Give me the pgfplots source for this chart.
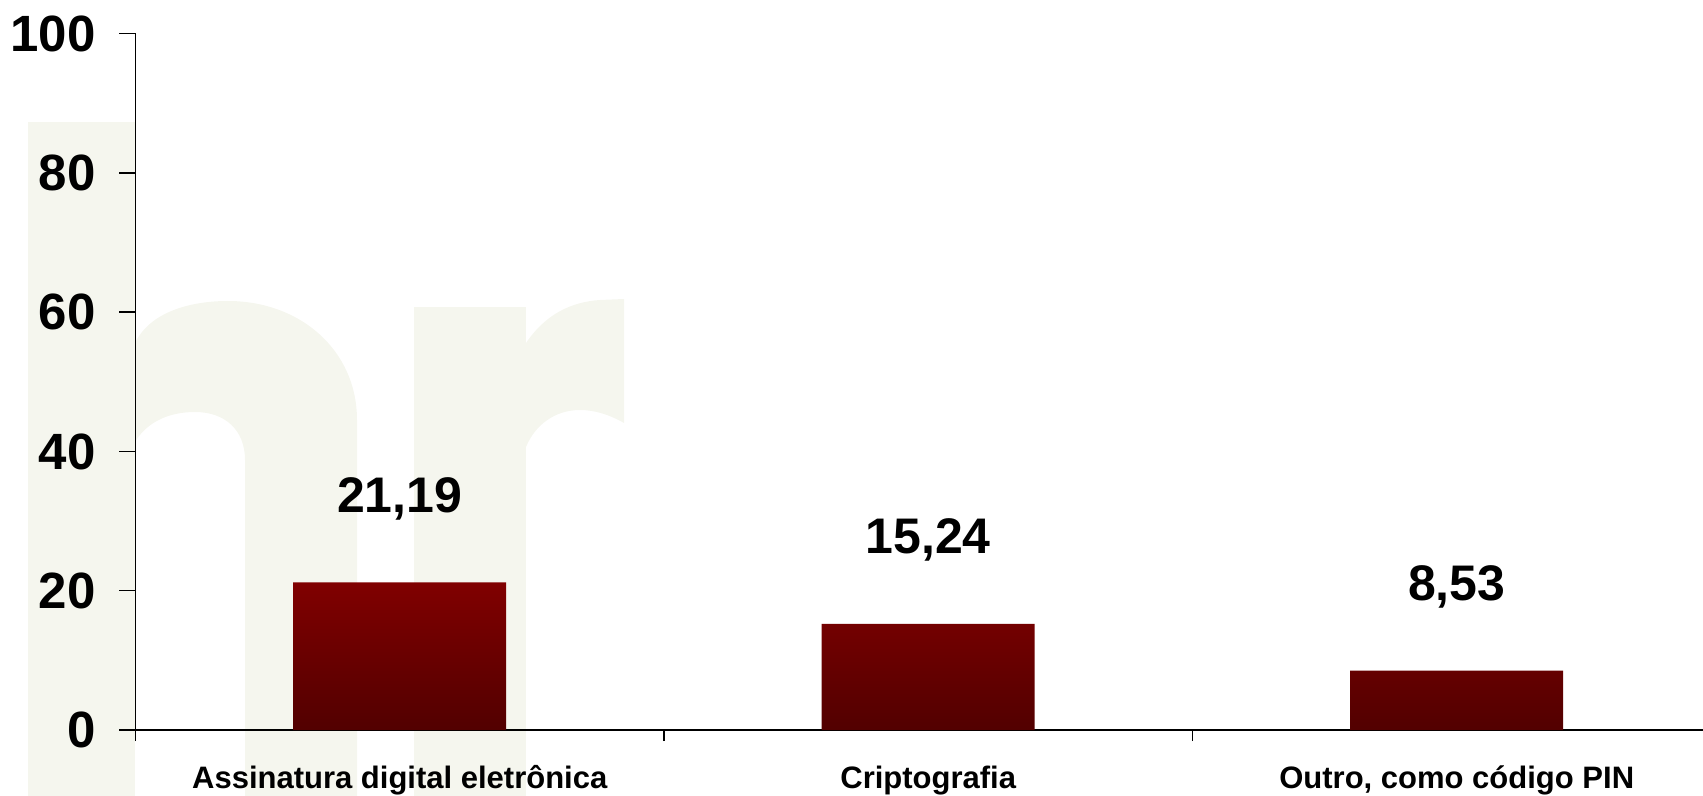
\documentclass[border=0pt]{standalone}
\usepackage{pgfplots}
\pgfplotsset{compat=1.18}
\usepackage{fontspec}
\setmainfont{Liberation Sans}
\definecolor{wm}{RGB}{245,246,238}
\definecolor{bartop}{RGB}{128,0,0}
\definecolor{barbot}{RGB}{82,0,0}
\newcommand\bigfont{\bfseries\fontsize{25}{30}\selectfont}
\newcommand\tickfont{\bfseries\fontsize{25.5}{30}\selectfont}
\newcommand\catfont{\bfseries\fontsize{15.5}{18}\selectfont}

\begin{document}
\begin{tikzpicture}
\path[use as bounding box] (0,0) rectangle (851.5pt,-398pt);
\clip (0,0) rectangle (851.5pt,-398pt);
% watermark letters (pixel units, y down)
\begin{scope}[x=0.5pt,y=-0.5pt]
  \fill[wm] (28,122) rectangle (135,800);
  \fill[wm] (135,343) .. controls (150,312) and (190,301) .. (228,301)
    .. controls (300,301) and (357,350) .. (357,420) -- (357,800) -- (245,800)
    -- (245,460) .. controls (245,430) and (225,412) .. (195,412)
    .. controls (165,412) and (145,425) .. (135,442) -- cycle;
  \fill[wm] (414,307) rectangle (526,800);
  \fill[wm] (526,343) .. controls (545,315) and (570,302) .. (600,300)
    -- (624,299) -- (624,423) .. controls (610,415) and (595,410) .. (580,410)
    .. controls (555,410) and (535,425) .. (526,447) -- cycle;
\end{scope}
\begin{axis}[
  at={(67.75pt,-365pt)}, anchor=south west,
  scale only axis, width=783.75pt, height=348.15pt,
  xmin=-0.5, xmax=2.466, ymin=0, ymax=100,
  axis x line=bottom, axis y line=left,
  axis line style={-, line width=0.75pt},
  tick align=outside,
  tick style={black, line width=0.75pt},
  ytick={0,20,40,60,80,100},
  ytick style={/pgfplots/major tick length=8pt},
  xtick={-0.5,0.5,1.5},
  xticklabels={},
  xtick style={/pgfplots/major tick length=5.5pt},
  /pgf/number format/assume math mode=true,
  yticklabel style={font=\tickfont, anchor=east, inner sep=0pt, xshift=-15.5pt},
  extra x ticks={0,1,2},
  extra x tick labels={{Assinatura digital eletrônica}, {Criptografia}, {Outro, como código PIN}},
  extra x tick style={tick style={draw=none},
    xticklabel style={font=\catfont, anchor=base, inner sep=0pt, yshift=-25pt}},
  ybar, bar width=106.5pt,
  nodes near coords={\pgfmathprintnumber[fixed, fixed zerofill, precision=2, use comma]{\pgfplotspointmeta}},
  every node near coord/.append style={font=\bigfont, anchor=south, inner sep=0pt, yshift=31pt},
]
\addplot[draw=none, top color=bartop, bottom color=barbot]
  coordinates {(0,21.19) (1,15.24) (2,8.53)};
\end{axis}
\end{tikzpicture}
\end{document}
